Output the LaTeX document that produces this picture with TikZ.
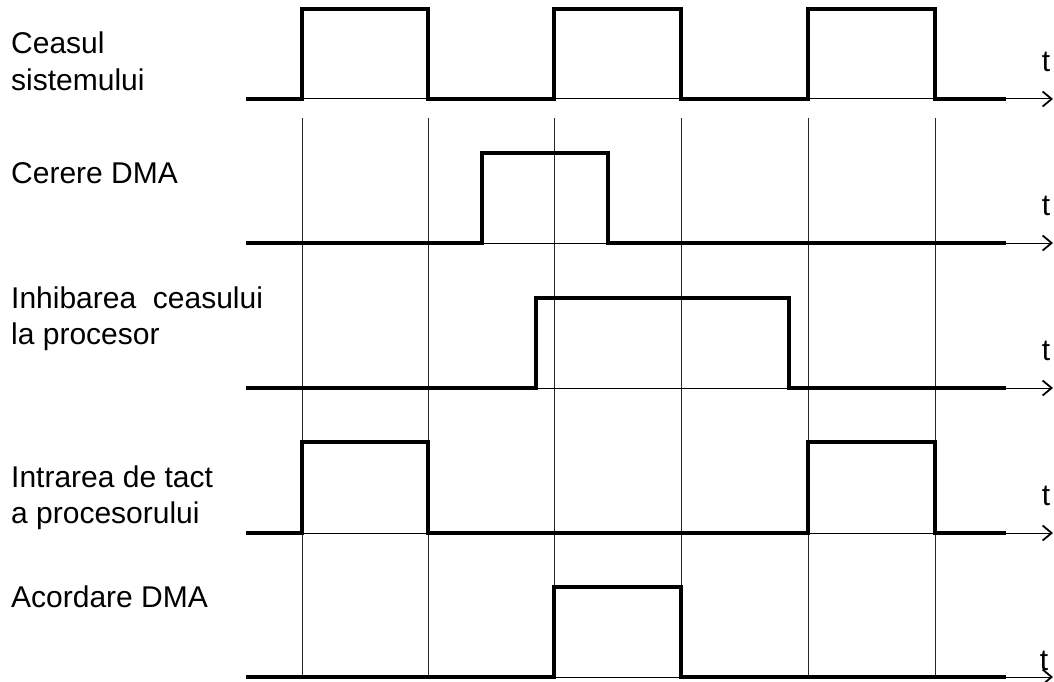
\documentclass[tikz,border=0pt]{standalone}
\usepackage{fontspec}
\setmainfont{Liberation Sans}
\usetikzlibrary{arrows.meta}
\begin{document}
\begin{tikzpicture}[x={(1pt,0)},y={(0,-1pt)},
  lbl/.style={anchor=base west,inner sep=0pt,font=\fontsize{30}{36}\selectfont},
  tlbl/.style={anchor=base,inner sep=0pt,font=\fontsize{30}{36}\selectfont},
  sig/.style={line width=3.2pt,line join=miter,black},
  axisline/.style={line width=1pt,black,-{Straight Barb[length=9pt,width=15pt,line width=1.8pt]}},
  grid/.style={line width=1pt,black!85}]
\useasboundingbox (0,0) rectangle (1054,682);
% grid verticals
\foreach \x in {302,428,554,681,808,935}
  \draw[grid] (\x,118) -- (\x,677);
% axes
\foreach \y in {99,243,388,533,677}
  \draw[axisline] (246,\y) -- (1053,\y);
% signals
\draw[sig] (246,99) -- (302,99) -- (302,9) -- (428,9) -- (428,99) -- (554,99) -- (554,9) -- (681,9) -- (681,99) -- (808,99) -- (808,9) -- (935,9) -- (935,99) -- (1006,99);
\draw[sig] (246,243) -- (482,243) -- (482,153) -- (608,153) -- (608,243) -- (1006,243);
\draw[sig] (246,388) -- (536,388) -- (536,298) -- (789,298) -- (789,388) -- (1006,388);
\draw[sig] (246,533) -- (302,533) -- (302,442) -- (428,442) -- (428,533) -- (808,533) -- (808,442) -- (935,442) -- (935,533) -- (1006,533);
\draw[sig] (246,677) -- (554,677) -- (554,587) -- (681,587) -- (681,677) -- (1006,677);
% labels
\node[lbl] (l1a) at (11,54) {Ceasul};
\node[lbl] (l1b) at (11,91) {sistemului};
\node[lbl] (l2) at (11,183) {Cerere DMA};
\node[lbl] (l3a) at (11,308) {Inhibarea\ \ ceasului};
\node[lbl] (l3b) at (11,344) {la procesor};
\node[lbl] (l4a) at (11,487) {Intrarea de tact};
\node[lbl] (l4b) at (11,523) {a procesorului};
\node[lbl] (l5) at (11,607) {Acordare DMA};
% t labels
\node[tlbl] (t1) at (1046,72) {t};
\node[tlbl] (t2) at (1046,215) {t};
\node[tlbl] (t3) at (1046,360) {t};
\node[tlbl] (t4) at (1046,505) {t};
\node[tlbl] (t5) at (1044,670) {t};
\end{tikzpicture}
\end{document}
